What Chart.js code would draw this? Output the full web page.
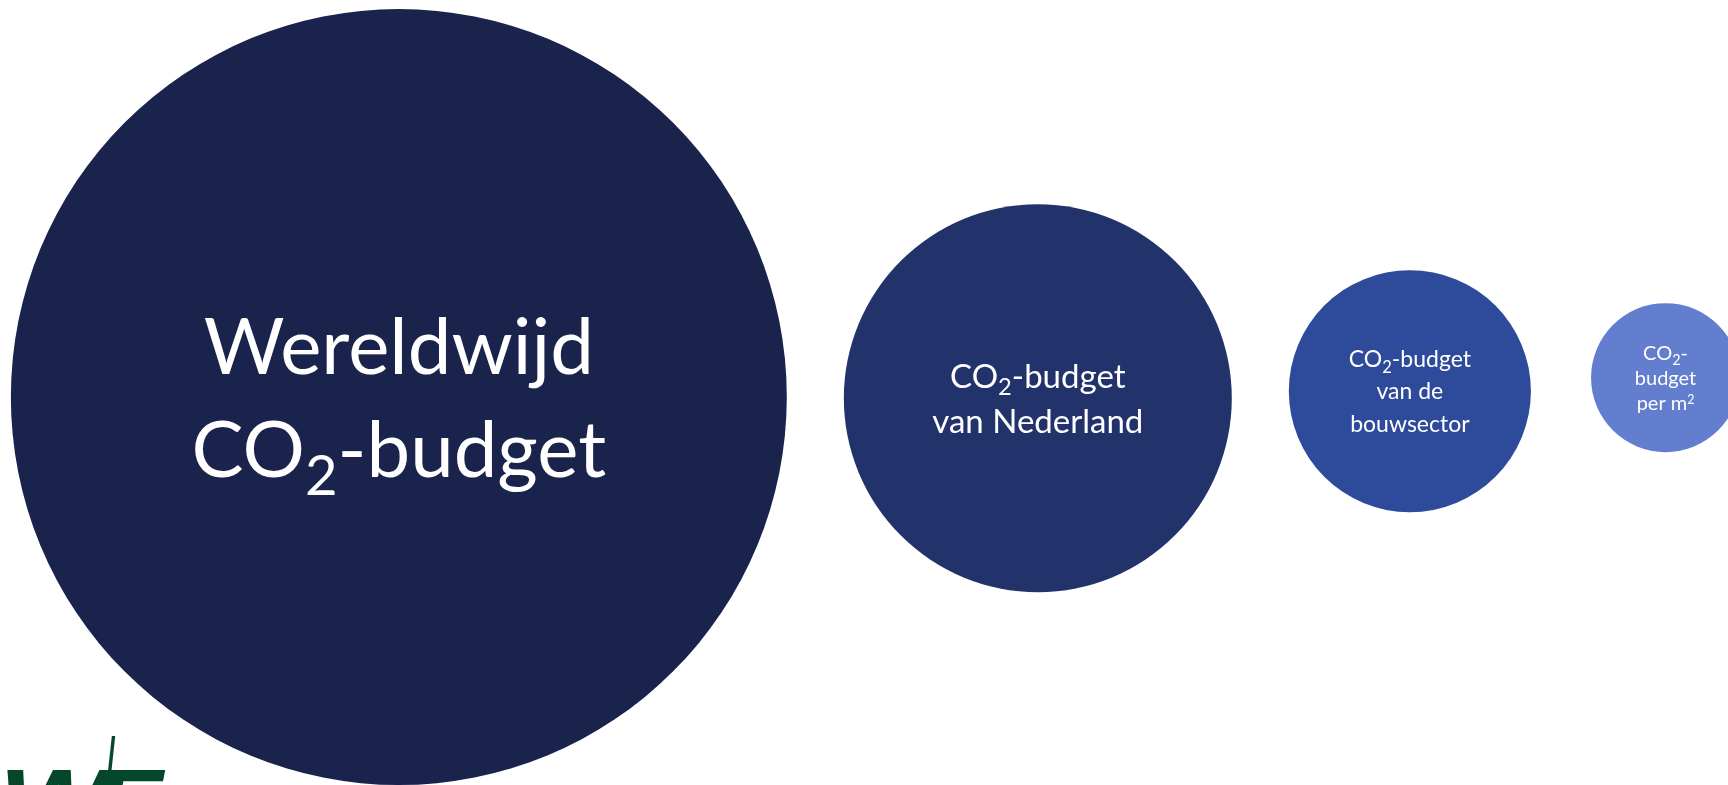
<!DOCTYPE html>
<html lang="nl">
<head>
<meta charset="utf-8">
<title>CO2-budget</title>
<script src="https://cdn.jsdelivr.net/npm/chart.js@4.4.1/dist/chart.umd.min.js"></script>
<style>
  html, body { margin: 0; padding: 0; background: #fff; overflow: hidden; }
  #wrap { position: relative; width: 1728px; height: 785px; }
</style>
</head>
<body>
<div id="wrap"><canvas id="budgetChart"></canvas></div>
<script>
// label lines per circle, "_2" = subscript 2, "^2" = superscript 2
const labels = [
    ['Wereldwijd', 'CO_2-budget'],
    ['CO_2-budget', 'van Nederland'],
    ['CO_2-budget', 'van de', 'bouwsector'],
    ['CO_2-', 'budget', 'per m^2']
];
// relative size (radius) of each budget, world = 100
const budgetSize = [100, 50, 31.2, 19.2];
// centre of each circle in the same units
const centreX = [102.8, 267.5, 363.4, 429.3];
const centreY = [100, 99.7, 101.5, 105];

const circleColors = ['#19234c', '#22336b', '#2e4a9b', '#637dcf'];
const labelFontSize = [78, 33, 23, 20];
const labelLineHeight = [103, 45, 32.5, 25];
const labelFont = 'Lato, "Noto Sans", sans-serif';

const wrap = document.getElementById('wrap');
const xMax = 445.4;
const yMax = xMax * wrap.clientHeight / wrap.clientWidth;

function drawLabelLine(ctx, line, cx, baseline, size) {
    const pieces = [];
    line.split(/([_^]2)/).forEach(p => {
        if (!p) return;
        if (p === '_2') pieces.push({ text: '2', size: size * 0.72, dy: size * 0.24 });
        else if (p === '^2') pieces.push({ text: '2', size: size * 0.62, dy: -size * 0.3 });
        else pieces.push({ text: p, size: size, dy: 0 });
    });
    let total = 0;
    pieces.forEach(pc => {
        ctx.font = pc.size + 'px ' + labelFont;
        pc.w = ctx.measureText(pc.text).width;
        total += pc.w;
    });
    let x = cx - total / 2;
    pieces.forEach(pc => {
        ctx.font = pc.size + 'px ' + labelFont;
        ctx.fillText(pc.text, x, baseline + pc.dy);
        x += pc.w;
    });
}

const circleLabels = {
    id: 'circleLabels',
    afterDatasetsDraw(chart) {
        const ctx = chart.ctx;
        const meta = chart.getDatasetMeta(0);
        ctx.save();
        ctx.fillStyle = '#ffffff';
        ctx.textAlign = 'left';
        ctx.textBaseline = 'alphabetic';
        meta.data.forEach((pt, i) => {
            const size = labelFontSize[i];
            const lh = labelLineHeight[i];
            const lines = labels[i];
            const cap = size * 0.72;
            let base = pt.y - ((lines.length - 1) * lh + cap) / 2 + cap;
            lines.forEach(line => {
                drawLabelLine(ctx, line, pt.x, base, size);
                base += lh;
            });
        });
        ctx.restore();
    }
};

// logo in the lower left corner, cut off by the edge
const logo = {
    id: 'logo',
    afterDraw(chart) {
        const ctx = chart.ctx;
        const h = chart.height;
        ctx.save();
        ctx.fillStyle = '#05472a';
        ctx.textBaseline = 'alphabetic';
        ctx.font = 'italic bold 100px "Liberation Sans", sans-serif';
        ctx.save();
        ctx.translate(-1, h + 54);
        ctx.scale(1.15, 1);
        ctx.fillText('W', 0, 0);
        ctx.restore();
        ctx.fillText('E', 96, h + 54);
        ctx.save();
        ctx.translate(103, h + 30);
        ctx.scale(0.4, 1);
        ctx.font = '110px "Liberation Sans", sans-serif';
        ctx.fillText('/', 0, 0);
        ctx.restore();
        ctx.restore();
    }
};

function draw() {
    new Chart(document.getElementById('budgetChart'), {
        type: 'bubble',
        data: {
            labels: labels.map(l => l.join(' ').replace(/[_^]/g, '')),
            datasets: [{
                data: centreX.map((x, i) => ({ x: x, y: centreY[i] })),
                backgroundColor: circleColors,
                borderWidth: 0,
                // radius measured on the x scale so size follows the axis
                radius: function (c) {
                    const s = c.chart.scales.x;
                    if (!s) return 0;
                    const r = s.getPixelForValue(budgetSize[c.dataIndex]) - s.getPixelForValue(0);
                    return isFinite(r) ? r : 0;
                },
                hoverRadius: 0,
                clip: false
            }]
        },
        options: {
            responsive: true,
            maintainAspectRatio: false,
            animation: false,
            events: [],
            parsing: false,
            layout: { padding: 0, autoPadding: false },
            plugins: {
                legend: { display: false },
                tooltip: { enabled: false }
            },
            scales: {
                x: { type: 'linear', display: false, min: 0, max: xMax },
                y: { type: 'linear', display: false, min: 0, max: yMax }
            }
        },
        plugins: [circleLabels, logo]
    });
}

if (document.fonts && document.fonts.load) {
    document.fonts.load('80px Lato').then(draw, draw);
} else {
    draw();
}
</script>
</body>
</html>
